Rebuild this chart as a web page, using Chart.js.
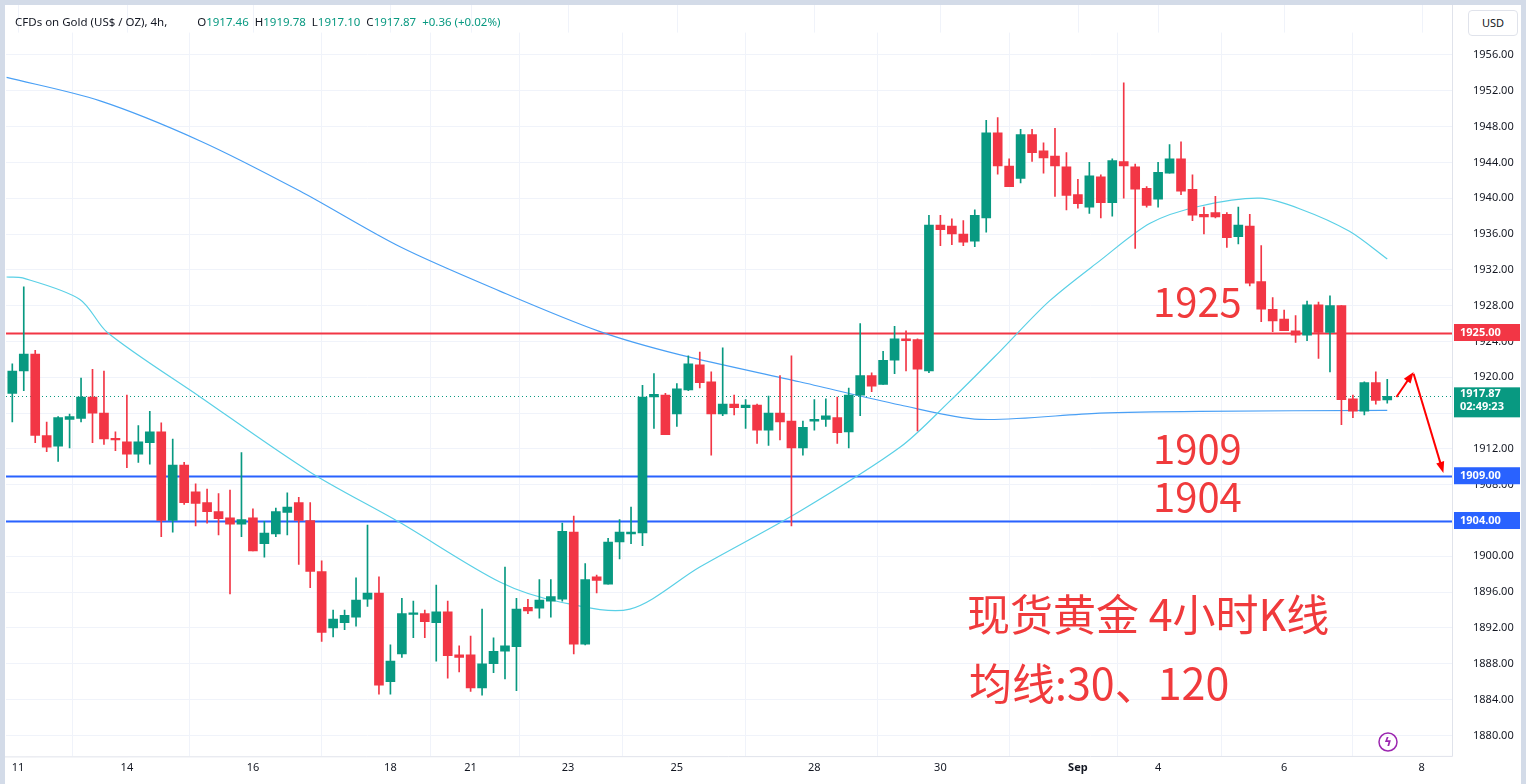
<!DOCTYPE html>
<html>
<head>
<meta charset="utf-8">
<script src="https://cdn.jsdelivr.net/npm/chart.js@4.4.1/dist/chart.umd.min.js"></script>
<style>
  html, body { margin: 0; padding: 0; background: #d3dbe8; }
  #wrap { position: absolute; left: 5px; top: 5px; width: 1516px; height: 779px; background: #fff; }
  #chart { position: absolute; left: 0; top: 0; }
  .txt { position: absolute; white-space: nowrap; font-family: "Noto Sans", "DejaVu Sans", sans-serif; }
  .big { color: #f03a3c; font-family: "Noto Sans CJK SC", "Noto Sans", sans-serif; font-size: 40px; line-height: 40px; }
  .cn { font-size: 43px; line-height: 43px; }
  #hdr { left: 10px; top: 9px; font-size: 11.5px; color: #131722; }
  #hdr .g { color: #089981; }
  #usd { left: 1463px; top: 5px; width: 48px; height: 24px; border: 1px solid #e0e3eb; border-radius: 4px;
         font-size: 11px; line-height: 24px; text-align: center; color: #131722; background: #fff; }
</style>
</head>
<body>
<div id="wrap">
  <canvas id="chart" width="1516" height="779"></canvas>
  <div id="hdr" class="txt">CFDs on Gold (US$ / OZ), 4h,&nbsp;&nbsp;&nbsp;&nbsp;&nbsp;&nbsp;&nbsp;&nbsp;&nbsp;&nbsp;O<span class="g">1917.46</span>&nbsp;&nbsp;H<span class="g">1919.78</span>&nbsp;&nbsp;L<span class="g">1917.10</span>&nbsp;&nbsp;C<span class="g">1917.87</span>&nbsp;&nbsp;<span class="g">+0.36 (+0.02%)</span></div>
  <div id="usd" class="txt">USD</div>
  <div class="txt big" style="left:1148px;top:275px;">1925</div>
  <div class="txt big" style="left:1148px;top:422px;">1909</div>
  <div class="txt big" style="left:1148px;top:470px;">1904</div>
  <div class="txt big cn" style="left:962px;top:586px;">现货黄金 4小时K线</div>
  <div class="txt big cn" style="left:964px;top:655px;">均线:30、120</div>
</div>
<script>
// 4h candles, oldest first
const opens  = [1918.2,1920.7,1922.6,1913.5,1912.3,1915.3,1915.4,1917.8,1916,1913.1,1912.8,1911.4,1912.7,1913.9,1904,1910.2,1907.2,1906,1905,1904.3,
  1903.6,1904.3,1901.4,1902.5,1904.9,1906,1904,1898.3,1892,1892.6,1893.2,1895.2,1895.9,1886,1889.1,1893.5,1893.6,1892.6,1893.8,1889,
  1889,1885.3,1888,1889.4,1889.9,1894.3,1894.2,1895,1895.2,1902.7,1890.2,1897.7,1896.9,1901.6,1902.5,1902.6,1917.8,1918,1915.9,1918.6,
  1921.4,1919.5,1915.9,1917,1916.6,1916.9,1914.1,1916,1915.1,1912.1,1915.1,1915.3,1915.5,1913.9,1918,1920.2,1919.2,1921.9,1924.3,1924.2,
  1920.7,1937,1936.9,1936,1935.2,1937.8,1947.3,1943.6,1942.2,1947.1,1945.3,1944.7,1943.5,1940.4,1939,1942.4,1939.5,1944.1,1943.5,1941.1,
  1939.9,1942.8,1944.4,1941,1938.2,1938.4,1938.2,1935.7,1936.9,1930.7,1927.6,1926.5,1925.2,1924.7,1928.1,1925,1928,1917.6,1916.2,1919.4,1917.46];
const highs  = [1921.5,1930.1,1923,1915,1915.6,1915.9,1919.9,1920.9,1920.7,1913.9,1918,1914.6,1916.2,1914.9,1913.1,1910.5,1908.1,1907.5,1907,1907.4,
  1911.6,1905.3,1903.9,1905.4,1907.1,1906.6,1906,1899.5,1894,1894,1897.6,1903.5,1897.7,1890.1,1895.3,1895,1894,1896.8,1895,1890,
  1891.1,1894.1,1890.9,1898.8,1895.3,1895.2,1897.4,1897.4,1903.7,1904.5,1899.2,1897.9,1902,1904.1,1905.5,1919.1,1920.4,1918.2,1919.3,1922.4,
  1922.8,1920.6,1923.3,1918,1917.5,1917,1917.9,1920.2,1922.4,1915.1,1917.5,1917.6,1917.8,1918.8,1926,1920.5,1922.9,1925.7,1925.2,1924.3,
  1938.1,1938.1,1937.7,1937.5,1938.7,1948.7,1949,1944.4,1947.7,1947.7,1946.2,1947.8,1945.1,1942.1,1944,1942.6,1944.4,1952.9,1943.8,1941.3,
  1944,1946,1946.3,1942.6,1939,1940.2,1938.4,1939,1938.2,1934.7,1928.9,1927.5,1926.9,1928.5,1928.4,1929.1,1928,1918,1919.5,1920.6,1919.78];
const lows   = [1915,1918.5,1912.7,1911.7,1910.6,1912.1,1915,1912.7,1912.5,1911.8,1909.9,1910.5,1910.3,1902.2,1902.7,1905.8,1903.4,1903.7,1902.4,1895.8,
  1902.2,1900.6,1899.9,1902.2,1902.4,1899.1,1896.5,1890.5,1891,1891.8,1892.2,1894.4,1884.6,1884.6,1888.7,1890.9,1890.9,1888.3,1886.4,1887.1,
  1884.9,1884.5,1887,1886.3,1885,1893.6,1893.1,1893.2,1895,1889.1,1890.1,1895.9,1896.9,1899.7,1901.4,1901.2,1914.3,1913.6,1914.5,1918.5,
  1918.8,1911.3,1915.7,1915.8,1914.3,1912.6,1912.4,1913,1903.4,1911.3,1914.1,1914.5,1912.6,1912.1,1915.7,1918.4,1919.2,1920.4,1920.7,1914,
  1920.5,1934.7,1934.8,1934.7,1934.6,1936.2,1942.7,1941.3,1941.7,1944.1,1942.8,1940.2,1938.7,1938.9,1938.3,1937.8,1938,1940,1934.4,1939,
  1939,1942.8,1940.4,1937.5,1936,1937.8,1934.5,1934.9,1930.2,1926.2,1925.1,1925.2,1923.9,1924.1,1922.1,1920.6,1914.7,1915.5,1915.8,1917,1917.1];
const closes = [1920.7,1922.6,1913.5,1912.2,1915.5,1915.6,1917.8,1916,1913.1,1913,1911.4,1912.8,1913.9,1904,1910.2,1906,1905.9,1905,1904.2,1903.6,
  1904.1,1900.6,1902.6,1905,1905.5,1904,1898.3,1891.5,1893,1893.4,1895.1,1895.9,1885.6,1888.3,1893.6,1893.7,1892.7,1893.8,1888.9,1888.7,
  1885.3,1888,1889.4,1890,1894.1,1893.9,1895.1,1895.5,1902.8,1890.2,1897.4,1897.3,1901.6,1902.7,1902.7,1917.8,1918.1,1913.6,1918.7,1921.5,
  1919.4,1915.9,1917,1916.6,1916.9,1914.1,1916,1915,1912.1,1914.4,1915.3,1915.7,1913.8,1918,1920.2,1919,1921.9,1924.3,1924.1,1920.9,
  1937,1936.5,1936,1935.1,1938.1,1947.3,1943.6,1941.3,1947.1,1945.1,1944.5,1943.6,1940.3,1939.4,1942.5,1939.5,1944.2,1943.6,1941,1939.2,
  1942.9,1944.4,1940.8,1938.1,1937.9,1937.9,1935.6,1937,1930.5,1927.6,1926.3,1925.2,1924.7,1928.1,1925,1928,1917.5,1916.2,1919.4,1917.4,1917.87];

// moving averages: [candle index, value]
const ma30 = [[-0.5,1931.2],[0.9,1931.1],[5.9,1928.7],[8.3,1925],[16.4,1917.8],[26,1909.4],[33.8,1903.8],[42.6,1897.1],[47.8,1894.9],
  [53.9,1894.1],[60,1898.8],[68.7,1905],[77.5,1912.2],[81.8,1917.3],[86.2,1922.9],[90.5,1928.5],[94.9,1933],[99.3,1937.2],
  [103.6,1939.1],[108.9,1940],[112.4,1938.8],[116.7,1936.3],[120,1933.2]];
const ma120 = [[-0.5,1953.5],[7.6,1950.9],[16.4,1946.4],[25.1,1940.8],[33.8,1934.6],[42.6,1929.6],[51.3,1925.1],[58.3,1922.5],
  [68.7,1919.5],[77.5,1916.9],[84.4,1915.3],[94.9,1916],[103.6,1916.2],[120,1916.3]];

const dayTicks  = [0.5, 10, 21, 33, 40, 48.5, 58, 70, 81, 93, 100, 111, 123];
const dayLabels = ['11','14','16','18','21','23','25','28','30','Sep','4','6','8'];
const levels = [
  { value: 1925, color: '#f23645' },
  { value: 1909, color: '#2962ff' },
  { value: 1904, color: '#2962ff' }
];
const lastPrice = 1917.87;
const countdown = '02:49:23';

const UP = '#089981', DOWN = '#f23645';
const candleColors = opens.map((o, i) => closes[i] >= o ? UP : DOWN);
const bodies = opens.map((o, i) => ({ x: i, y: [o, closes[i]] }));
const wicks = opens.map((o, i) => ({ x: i, y: [lows[i], highs[i]] }));

function badge(ctx, area, y, color, lines) {
  const h = lines.length > 1 ? 30 : 17;
  ctx.fillStyle = color;
  ctx.fillRect(area.right + 2, y - (lines.length > 1 ? 9 : h / 2), 66, h);
  ctx.fillStyle = '#fff';
  ctx.font = 'bold 11px "Noto Sans", sans-serif';
  ctx.textAlign = 'left';
  ctx.textBaseline = 'middle';
  lines.forEach((t, k) => ctx.fillText(t, area.right + 8, y + k * 13 + (lines.length > 1 ? -2 : 0)));
}

function arrow(ctx, x1, y1, x2, y2) {
  const a = Math.atan2(y2 - y1, x2 - x1);
  ctx.strokeStyle = '#ff0000';
  ctx.fillStyle = '#ff0000';
  ctx.lineWidth = 2;
  ctx.beginPath(); ctx.moveTo(x1, y1); ctx.lineTo(x2 - 8 * Math.cos(a), y2 - 8 * Math.sin(a)); ctx.stroke();
  ctx.beginPath();
  ctx.moveTo(x2, y2);
  ctx.lineTo(x2 - 12 * Math.cos(a - 0.35), y2 - 12 * Math.sin(a - 0.35));
  ctx.lineTo(x2 - 12 * Math.cos(a + 0.35), y2 - 12 * Math.sin(a + 0.35));
  ctx.closePath(); ctx.fill();
}

const overlay = {
  id: 'overlay',
  beforeDraw(chart) {
    // grid continues up to the top edge of the frame
    const { ctx, chartArea: area, scales: { x } } = chart;
    ctx.save();
    ctx.strokeStyle = '#f0f3fa'; ctx.lineWidth = 1;
    dayTicks.forEach(v => {
      const px = Math.round(x.getPixelForValue(v)) + 0.5;
      ctx.beginPath(); ctx.moveTo(px, 0); ctx.lineTo(px, area.top); ctx.stroke();
    });
    ctx.restore();
  },
  beforeDatasetsDraw(chart) {
    const { ctx, chartArea: area, scales: { y } } = chart;
    ctx.save();
    levels.forEach(l => {
      const py = Math.round(y.getPixelForValue(l.value)) + 0.5;
      ctx.strokeStyle = l.color; ctx.lineWidth = 2;
      ctx.beginPath(); ctx.moveTo(area.left, py); ctx.lineTo(area.right, py); ctx.stroke();
    });
    const py = Math.round(y.getPixelForValue(lastPrice)) + 0.5;
    ctx.strokeStyle = UP; ctx.lineWidth = 1; ctx.setLineDash([1, 3]);
    ctx.beginPath(); ctx.moveTo(area.left, py); ctx.lineTo(area.right, py); ctx.stroke();
    ctx.restore();
  },
  afterDraw(chart) {
    const { ctx, chartArea: area, scales: { x, y } } = chart;
    ctx.save();
    ctx.strokeStyle = '#e0e3eb'; ctx.lineWidth = 1;
    ctx.beginPath(); ctx.moveTo(area.right + 0.5, 0); ctx.lineTo(area.right + 0.5, area.bottom);
    ctx.lineTo(0, area.bottom + 0.5); ctx.stroke();
    levels.forEach(l => badge(ctx, area, y.getPixelForValue(l.value), l.color, [l.value.toFixed(2)]));
    badge(ctx, area, y.getPixelForValue(lastPrice), UP, [lastPrice.toFixed(2), countdown]);
    arrow(ctx, x.getPixelForValue(120.8), y.getPixelForValue(1917.8), x.getPixelForValue(122.3), y.getPixelForValue(1920.6));
    arrow(ctx, x.getPixelForValue(122.3), y.getPixelForValue(1920.4), x.getPixelForValue(124.9), y.getPixelForValue(1909.3));
    // lightning icon
    ctx.strokeStyle = '#9c27b0'; ctx.lineWidth = 1.5;
    ctx.beginPath(); ctx.arc(1383, 737, 9, 0, Math.PI * 2); ctx.stroke();
    ctx.fillStyle = '#9c27b0'; ctx.font = 'bold 12px "DejaVu Sans"'; ctx.textAlign = 'center'; ctx.textBaseline = 'middle';
    ctx.fillText('ϟ', 1383, 738);
    ctx.restore();
  }
};

new Chart(document.getElementById('chart'), {
  type: 'bar',
  data: {
    datasets: [
      { type: 'line', data: ma30.map(p => ({ x: p[0], y: p[1] })), borderColor: '#5ad0e6', borderWidth: 1.2,
        pointRadius: 0, tension: 0.3, order: 3 },
      { type: 'line', data: ma120.map(p => ({ x: p[0], y: p[1] })), borderColor: '#4aa0f5', borderWidth: 1.2,
        pointRadius: 0, tension: 0.3, order: 3 },
      { data: wicks, backgroundColor: candleColors, barThickness: 1, grouped: false, order: 2 },
      { data: bodies, backgroundColor: candleColors, barThickness: 9, minBarLength: 1.5, grouped: false, order: 1 }
    ]
  },
  options: {
    responsive: false,
    animation: false,
    layout: { padding: { top: 3, left: 1 } },
    plugins: { legend: { display: false }, tooltip: { enabled: false } },
    scales: {
      x: {
        type: 'linear', min: -0.55, max: 125.65, offset: false,
        afterBuildTicks: axis => { axis.ticks = dayTicks.map(v => ({ value: v })); },
        afterFit: axis => { axis.height = 26; },
        grid: { color: '#f0f3fa', drawTicks: false },
        border: { display: false },
        ticks: {
          autoSkip: false, maxRotation: 0, padding: 5, color: '#131722',
          callback: v => dayLabels[dayTicks.indexOf(v)],
          font: c => ({ size: 11, family: '"Noto Sans", sans-serif', weight: c.tick && c.tick.label === 'Sep' ? 'bold' : 'normal' })
        }
      },
      y: {
        position: 'right', min: 1877.65, max: 1958.5,
        afterBuildTicks: axis => {
          const t = [];
          for (let v = 1880; v <= 1956; v += 4) t.push({ value: v });
          axis.ticks = t;
        },
        afterFit: axis => { axis.width = 69; },
        grid: { color: '#f0f3fa', drawTicks: false },
        border: { display: false },
        ticks: { padding: 21, color: '#131722', font: { size: 11, family: '"Noto Sans", sans-serif' }, callback: v => v.toFixed(2) }
      }
    }
  },
  plugins: [overlay]
});
</script>
</body>
</html>
